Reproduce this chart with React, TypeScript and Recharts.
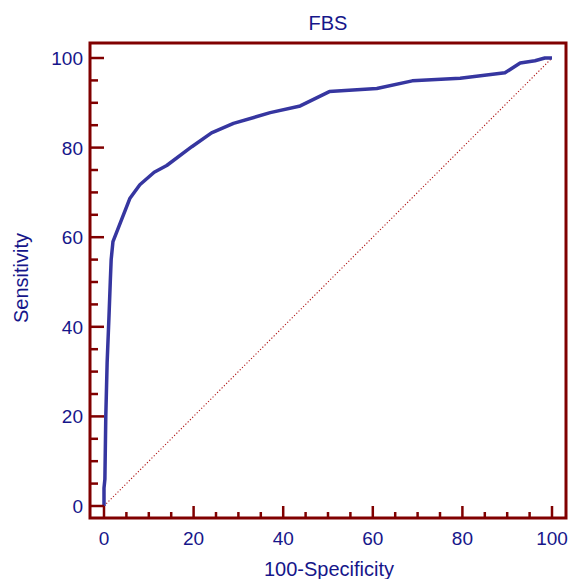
import React from "react";
import {
  ComposedChart,
  Line,
  XAxis,
  YAxis,
  ReferenceArea,
  ReferenceLine,
} from "recharts";

// ROC curve
const specificity = [
  0, 0, 0.2, 0.4, 0.7, 1.1, 1.4, 1.6, 2, 5.8, 8, 11.2, 14, 19.6, 24, 28.9,
  37.1, 43.8, 50.3, 60.9, 68.8, 79.5, 89.5, 92.9, 96.2, 98.4, 100,
];
const sensitivity = [
  0, 4, 6, 20, 32, 42, 50, 55, 59, 68.7, 71.7, 74.5, 76, 80.2, 83.3, 85.4,
  87.8, 89.3, 92.5, 93.2, 94.9, 95.5, 96.7, 98.9, 99.4, 100, 100,
];

const axisTicks = [0, 5, 10, 15, 20, 25, 30, 35, 40, 45, 50, 55, 60, 65, 70, 75, 80, 85, 90, 95, 100];
const labelledTicks = [0, 20, 40, 60, 80, 100];

const title = "FBS";
const xTitle = "100-Specificity";
const yTitle = "Sensitivity";

const FRAME = "#800000";
const TEXT = "#16168a";
const CURVE = "#3636a0";
const FONT = "'Liberation Sans', Arial, sans-serif";

const X_DOMAIN: [number, number] = [-3.125, 103.125];
const Y_DOMAIN: [number, number] = [-2.68, 103.35];

const data = specificity.map((s, i) => ({ spec: s, sens: sensitivity[i] }));

function XTick(props: any) {
  const { x, y, payload } = props;
  const major = labelledTicks.includes(payload.value);
  return (
    <g>
      <line x1={x} x2={x} y1={y} y2={y - (major ? 12 : 6)} stroke={FRAME} strokeWidth={2.5} />
      {major && (
        <text x={x} y={y + 27} textAnchor="middle" fill={TEXT} fontSize={19} fontFamily={FONT}>
          {payload.value}
        </text>
      )}
    </g>
  );
}

function YTick(props: any) {
  const { x, y, payload } = props;
  const major = labelledTicks.includes(payload.value);
  return (
    <g>
      <line x1={x} x2={x + (major ? 14 : 8)} y1={y} y2={y} stroke={FRAME} strokeWidth={2.5} />
      {major && (
        <text x={x - 7} y={y + 7} textAnchor="end" fill={TEXT} fontSize={19} fontFamily={FONT}>
          {payload.value}
        </text>
      )}
    </g>
  );
}

export default function App() {
  return (
    <div style={{ position: "absolute", left: 0, top: 0, width: 569, height: 579, background: "#fff" }}>
      <ComposedChart
        width={569}
        height={579}
        data={data}
        margin={{ top: 43, right: 3, bottom: 0, left: 0 }}
      >
        <XAxis
          type="number"
          dataKey="spec"
          domain={X_DOMAIN}
          ticks={axisTicks}
          allowDataOverflow
          axisLine={false}
          tickLine={false}
          tickSize={0}
          tickMargin={0}
          height={61}
          tick={<XTick />}
          interval={0}
        />
        <YAxis
          type="number"
          domain={Y_DOMAIN}
          ticks={axisTicks}
          allowDataOverflow
          axisLine={false}
          tickLine={false}
          tickSize={0}
          tickMargin={0}
          width={90}
          tick={<YTick />}
          interval={0}
        />
        <ReferenceLine
          segment={[
            { x: 0, y: 0 },
            { x: 100, y: 100 },
          ]}
          stroke="#b01818"
          strokeOpacity={1}
          strokeWidth={1.1}
          strokeDasharray="1.2 2"
        />
        <Line
          type="linear"
          dataKey="sens"
          stroke={CURVE}
          strokeWidth={3.5}
          dot={false}
          activeDot={false}
          isAnimationActive={false}
          strokeLinejoin="round"
        />
        <ReferenceArea
          x1={X_DOMAIN[0]}
          x2={X_DOMAIN[1]}
          y1={Y_DOMAIN[0]}
          y2={Y_DOMAIN[1]}
          fill="none"
          fillOpacity={0}
          stroke={FRAME}
          strokeWidth={3}
        />
      </ComposedChart>
      <svg
        width={569}
        height={579}
        style={{ position: "absolute", left: 0, top: 0, pointerEvents: "none" }}
      >
        <text x={328} y={30} textAnchor="middle" fill={TEXT} fontSize={20} fontFamily={FONT}>
          {title}
        </text>
        <text x={329} y={576} textAnchor="middle" fill={TEXT} fontSize={20} fontFamily={FONT}>
          {xTitle}
        </text>
        <text
          transform="translate(28, 278) rotate(-90)"
          textAnchor="middle"
          fill={TEXT}
          fontSize={20}
          fontFamily={FONT}
        >
          {yTitle}
        </text>
      </svg>
    </div>
  );
}
